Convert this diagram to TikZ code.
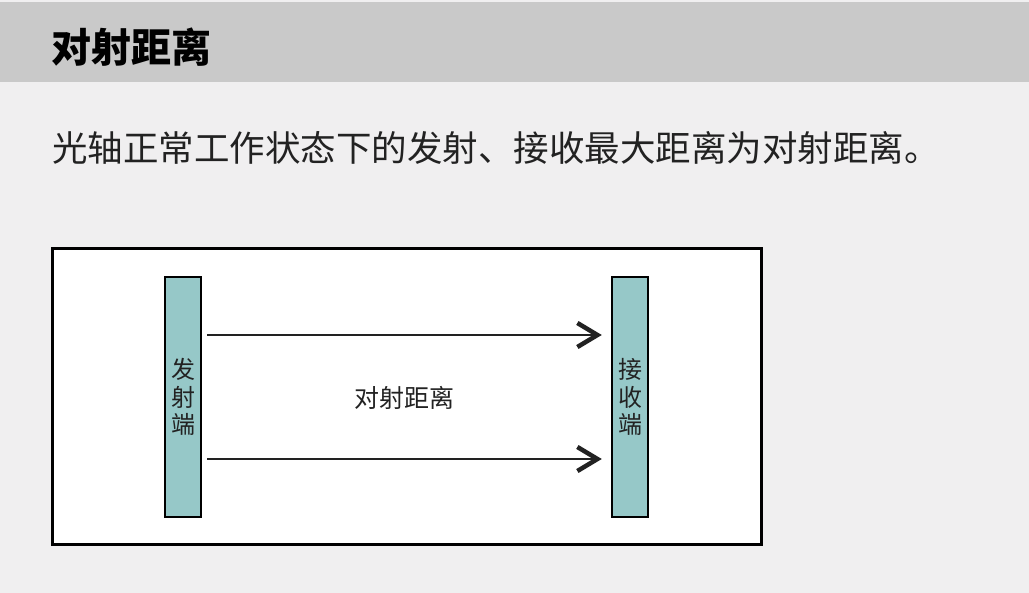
\documentclass[tikz,border=0pt]{standalone}
\usepackage{fontspec}
\setmainfont{Noto Sans CJK SC}
\usetikzlibrary{arrows.meta}
\definecolor{pagebg}{HTML}{F0EFF0}
\definecolor{headbg}{HTML}{C9C9C9}
\definecolor{barfill}{HTML}{96C8C8}
\definecolor{ink}{HTML}{222222}
\tikzset{
  bar/.style={draw=black,line width=2.5pt,fill=barfill,minimum width=36pt,minimum height=240pt,inner sep=0pt,
    text=ink,align=center,font=\fontsize{24}{27.5}\selectfont},
  beam/.style={draw=ink,line width=2pt,-{Straight Barb[length=20pt,width=24pt,line width=4.5pt]}}
}
\begin{document}
\begin{tikzpicture}[x=1pt,y=-1pt]
\useasboundingbox (0,0) rectangle (1029,593);
\fill[pagebg] (0,0) rectangle (1029,593);
\fill[headbg] (0,2) rectangle (1029,82);
% header and caption
\node[anchor=west,inner sep=0pt,font=\fontsize{40}{42}\selectfont\bfseries] (title) at (51,47) {对射距离};
\node[anchor=west,inner sep=0pt,text=ink,font=\fontsize{35.5}{40}\selectfont] (caption) at (52,148) {光轴正常工作状态下的发射、接收最大距离为对射距离。};
% frame
\draw[line width=3pt,fill=white] (52,249) rectangle (761,545);
\node[bar] (tx) at (183,397) {发\\射\\端};
\node[bar] (rx) at (630,397) {接\\收\\端};
\node[text=ink,font=\fontsize{25}{30}\selectfont] (dist) at (404,398) {对射距离};
\draw[beam] ([xshift=5pt,yshift=62pt]tx.east) -- ([xshift=-9pt,yshift=62pt]rx.west);
\draw[beam] ([xshift=5pt,yshift=-62pt]tx.east) -- ([xshift=-9pt,yshift=-62pt]rx.west);
\end{tikzpicture}
\end{document}
